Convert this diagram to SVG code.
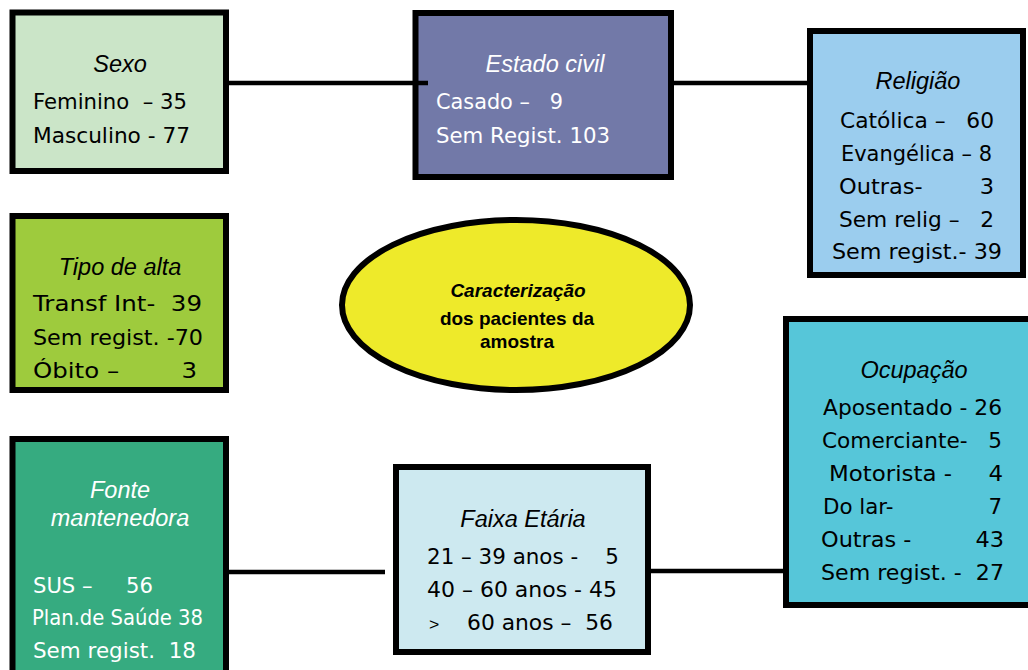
<svg xmlns="http://www.w3.org/2000/svg" width="1028" height="670" viewBox="0 0 1028 670">
<style>
.box{stroke:#000;stroke-width:6}
.title{font-family:"Liberation Sans",Arial,sans-serif;font-style:italic;font-size:23.5px;text-anchor:middle}
.body{font-family:"DejaVu Sans","Noto Sans",sans-serif;font-size:21px}
.dark{fill:#000}
.light{fill:#fff}
.center{font-family:"Liberation Sans",Arial,sans-serif;font-weight:bold;font-size:19px;text-anchor:middle;fill:#000}
.conn{stroke:#000;stroke-width:4.5;fill:none}
</style>
<rect width="1028" height="670" fill="#fff"/>
<g id="sexo">
<rect class="box" x="12.5" y="12.5" width="213.5" height="158.5" fill="#cbe5c8"/>
<text class="title dark" x="120" y="72">Sexo</text>
<text class="body dark" xml:space="preserve" x="33" y="109" textLength="154" lengthAdjust="spacingAndGlyphs">Feminino  – 35</text>
<text class="body dark" xml:space="preserve" x="33" y="143" textLength="157" lengthAdjust="spacingAndGlyphs">Masculino - 77</text>
</g>
<g id="estado-civil">
<rect class="box" x="415.5" y="13" width="255.5" height="164" fill="#7279a8"/>
<text class="title light" x="545" y="72">Estado civil</text>
<text class="body light" xml:space="preserve" x="436" y="109" textLength="127" lengthAdjust="spacingAndGlyphs">Casado –   9</text>
<text class="body light" xml:space="preserve" x="436" y="143" textLength="174" lengthAdjust="spacingAndGlyphs">Sem Regist. 103</text>
</g>
<g id="religiao">
<rect class="box" x="810" y="31" width="213" height="244" fill="#9bcdee"/>
<text class="title dark" x="918" y="89">Religião</text>
<text class="body dark" xml:space="preserve" x="840" y="128" textLength="154" lengthAdjust="spacingAndGlyphs">Católica –   60</text>
<text class="body dark" xml:space="preserve" x="841" y="161" textLength="151" lengthAdjust="spacingAndGlyphs">Evangélica – 8</text>
<text class="body dark" xml:space="preserve" x="839" y="194" textLength="155" lengthAdjust="spacingAndGlyphs">Outras-        3</text>
<text class="body dark" xml:space="preserve" x="839" y="227" textLength="155" lengthAdjust="spacingAndGlyphs">Sem relig –   2</text>
<text class="body dark" xml:space="preserve" x="832" y="259" textLength="170" lengthAdjust="spacingAndGlyphs">Sem regist.- 39</text>
</g>
<g id="tipo-de-alta">
<rect class="box" x="12.5" y="216" width="213.5" height="174" fill="#9ecb3d"/>
<text class="title dark" x="120" y="275">Tipo de alta</text>
<text class="body dark" xml:space="preserve" x="33" y="311" textLength="169" lengthAdjust="spacingAndGlyphs">Transf Int-  39</text>
<text class="body dark" xml:space="preserve" x="33" y="345" textLength="170" lengthAdjust="spacingAndGlyphs">Sem regist. -70</text>
<text class="body dark" xml:space="preserve" x="33" y="378" textLength="164" lengthAdjust="spacingAndGlyphs">Óbito –        3</text>
</g>
<g id="caracterizacao">
<ellipse class="box" cx="516" cy="305" rx="174" ry="85" fill="#eeea2a"/>
<text class="center" x="518" y="297" font-style="italic">Caracterização</text>
<text class="center" x="517" y="325">dos pacientes da</text>
<text class="center" x="517" y="348">amostra</text>
</g>
<g id="fonte-mantenedora">
<rect class="box" x="12.5" y="439" width="213.5" height="250" fill="#36ab80"/>
<text class="title light" x="120" y="498">Fonte</text>
<text class="title light" x="120" y="526">mantenedora</text>
<text class="body light" xml:space="preserve" x="33" y="593" textLength="120" lengthAdjust="spacingAndGlyphs">SUS –     56</text>
<text class="body light" xml:space="preserve" x="32" y="625" textLength="171" lengthAdjust="spacingAndGlyphs">Plan.de Saúde 38</text>
<text class="body light" xml:space="preserve" x="33" y="658" textLength="163" lengthAdjust="spacingAndGlyphs">Sem regist.  18</text>
</g>
<g id="faixa-etaria">
<rect class="box" x="396" y="467" width="252" height="185" fill="#cde9f0"/>
<text class="title dark" x="523" y="527">Faixa Etária</text>
<text class="body dark" xml:space="preserve" x="427" y="564" textLength="192" lengthAdjust="spacingAndGlyphs">21 – 39 anos -    5</text>
<text class="body dark" xml:space="preserve" x="427" y="597" textLength="190" lengthAdjust="spacingAndGlyphs">40 – 60 anos - 45</text>
<text class="body dark" xml:space="preserve" x="429" y="630" textLength="184" lengthAdjust="spacingAndGlyphs"><tspan font-family="Liberation Sans, Arial, sans-serif" font-size="17">&gt;</tspan>    60 anos –  56</text>
</g>
<g id="ocupacao">
<rect class="box" x="786" y="319" width="246" height="286" fill="#56c6d9"/>
<text class="title dark" x="914" y="378">Ocupação</text>
<text class="body dark" xml:space="preserve" x="823" y="415" textLength="179" lengthAdjust="spacingAndGlyphs">Aposentado - 26</text>
<text class="body dark" xml:space="preserve" x="822" y="448" textLength="180" lengthAdjust="spacingAndGlyphs">Comerciante-   5</text>
<text class="body dark" xml:space="preserve" x="829" y="481" textLength="174" lengthAdjust="spacingAndGlyphs">Motorista -     4</text>
<text class="body dark" xml:space="preserve" x="823" y="514" textLength="179" lengthAdjust="spacingAndGlyphs">Do lar-              7</text>
<text class="body dark" xml:space="preserve" x="821" y="547" textLength="183" lengthAdjust="spacingAndGlyphs">Outras -         43</text>
<text class="body dark" xml:space="preserve" x="821" y="580" textLength="183" lengthAdjust="spacingAndGlyphs">Sem regist. -  27</text>
</g>
<g id="connectors">
<line class="conn" x1="229" y1="83" x2="428" y2="83"/>
<line class="conn" x1="674" y1="83" x2="807" y2="83"/>
<line class="conn" x1="229" y1="572" x2="385" y2="572"/>
<line class="conn" x1="651" y1="571" x2="783" y2="571"/>
</g>
</svg>
